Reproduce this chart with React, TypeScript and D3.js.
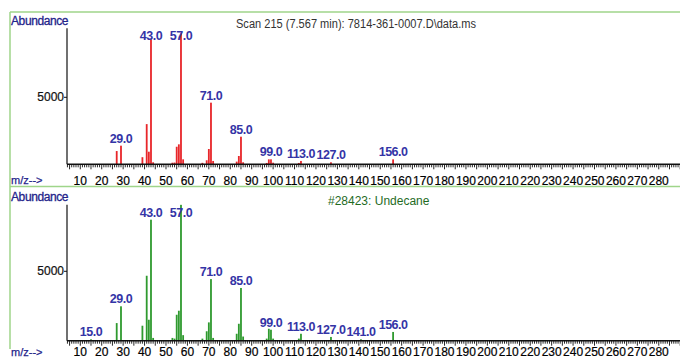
import React from "react";
import * as d3 from "d3";

// measured scan (top, red)
const scanMz = [27, 29, 39, 41, 42, 43, 44, 53, 54, 55, 56, 57, 58, 67, 69, 70, 71, 72, 83, 84, 85, 86, 97, 98, 99, 100, 112, 113, 127, 156];
const scanAbund = [990, 1390, 530, 3000, 940, 9330, 150, 120, 130, 1310, 1490, 9800, 370, 110, 300, 1140, 4600, 250, 200, 620, 2060, 150, 100, 370, 370, 120, 100, 250, 150, 370];
const scanLabels = [29, 43, 57, 71, 85, 99, 113, 127, 156];

// library spectrum #28423 Undecane (bottom, green)
const libMz = [15, 27, 29, 39, 41, 42, 43, 44, 53, 54, 55, 56, 57, 58, 67, 69, 70, 71, 72, 83, 84, 85, 86, 97, 98, 99, 100, 112, 113, 127, 141, 156];
const libAbund = [100, 1270, 2480, 1080, 4680, 1510, 8720, 200, 200, 150, 1870, 2160, 9790, 400, 150, 680, 1320, 4440, 200, 500, 1220, 3800, 300, 150, 860, 790, 150, 150, 500, 270, 100, 630];
const libLabels = [15, 29, 43, 57, 71, 85, 99, 113, 127, 141, 156];

const xTickLabels = [10, 20, 30, 40, 50, 60, 70, 80, 90, 100, 110, 120, 130, 140, 150, 160, 170, 180, 190, 200, 210, 220, 230, 240, 250, 260, 270, 280];
const yTickLabels = [5000];

const W = 680;
const H = 358;
const FONT = "'Liberation Sans', Arial, sans-serif";
const LABEL_BLUE = "#3434a6";
const AXIS_BLUE = "#23238a";
const FRAME = "#9fd58a";

const x = d3.scaleLinear().domain([3.8, 290]).range([67, 680.2]);

type PanelProps = {
  mz: number[];
  abund: number[];
  labels: number[];
  color: string;
  top: number;
  base: number;
  yMax: number;
  tickY: number;
  title: string;
  titleX: number;
  titleColor: string;
  titleLength?: number;
};

const Panel = ({ mz, abund, labels, color, top, base, yMax, tickY, title, titleX, titleColor, titleLength }: PanelProps) => {
  const y = d3.scaleLinear().domain([0, yMax]).range([base, top]);
  const minor = d3.range(4, 291, 1);
  const peaks = mz.map((m, i) => ({ m, v: abund[i] }));

  return (
    <g fontFamily={FONT}>
      <text x={11} y={top - 3.5} fontSize={12} fill={AXIS_BLUE} stroke={AXIS_BLUE} strokeWidth={0.3} letterSpacing={-0.4}>
        Abundance
      </text>
      <text
        x={titleX}
        y={top}
        fontSize={12}
        fill={titleColor}
        textLength={titleLength}
        lengthAdjust={titleLength ? "spacingAndGlyphs" : undefined}
      >
        {title}
      </text>

      {/* bars */}
      {peaks.map((d) => (
        <rect key={d.m} x={x(d.m) - 0.9} y={y(d.v)} width={1.8} height={base - y(d.v)} fill={color} />
      ))}

      {/* peak labels */}
      {labels.map((m) => {
        const v = abund[mz.indexOf(m)];
        const ly = Math.max(y(v) - 3, top + 12);
        return (
          <text key={m} x={x(m)} y={ly} textAnchor="middle" fontSize={12.5} fontWeight="bold" letterSpacing={-0.5} fill={LABEL_BLUE}>
            {m.toFixed(1)}
          </text>
        );
      })}

      {/* y axis */}
      <line x1={67} x2={67} y1={top} y2={base} stroke="#111" strokeWidth={1.2} />
      {yTickLabels.map((t) => (
        <g key={t}>
          <line x1={64} x2={67} y1={y(t)} y2={y(t)} stroke="#111" />
          <text x={64} y={y(t) + 4} textAnchor="end" fontSize={12} fill="#111" stroke="#111" strokeWidth={0.2}>
            {t}
          </text>
        </g>
      ))}

      {/* x axis ruler */}
      <line x1={67} x2={W} y1={base} y2={base} stroke="#111" strokeWidth={1.5} />
      {minor.map((m) => (
        <line key={m} x1={x(m)} x2={x(m)} y1={base} y2={base + (m % 5 === 0 ? 5 : 3)} stroke="#111" strokeWidth={0.9} />
      ))}
      {xTickLabels.map((t) => (
        <text key={t} x={x(t)} y={tickY} textAnchor="middle" fontSize={12} fill="#000" stroke="#000" strokeWidth={0.2}>
          {t}
        </text>
      ))}
      <text x={11} y={tickY - 0.5} fontSize={11} fill={AXIS_BLUE} stroke={AXIS_BLUE} strokeWidth={0.25}>
        m/z--&gt;
      </text>
    </g>
  );
};

export default function App() {
  return (
    <svg width={W} height={H} style={{ position: "absolute", left: 0, top: 0, background: "#fff" }}>
      <rect width={W} height={H} fill="#fff" />
      {/* frame */}
      <line x1={10} x2={W} y1={12} y2={12} stroke={FRAME} strokeWidth={1.5} />
      <line x1={10} x2={W} y1={186.5} y2={186.5} stroke={FRAME} strokeWidth={1.5} />
      <line x1={10} x2={10} y1={12} y2={349} stroke={FRAME} strokeWidth={1.5} />

      <Panel
        mz={scanMz}
        abund={scanAbund}
        labels={scanLabels}
        color="#e8262a"
        top={28.3}
        base={164.3}
        yMax={10150}
        tickY={184.5}
        title={"Scan 215 (7.567 min): 7814-361-0007.D\\data.ms"}
        titleX={236}
        titleColor="#333"
        titleLength={240}
      />
      <Panel
        mz={libMz}
        abund={libAbund}
        labels={libLabels}
        color="#2f9a2f"
        top={204.7}
        base={340.7}
        yMax={9800}
        tickY={356}
        title="#28423: Undecane"
        titleX={328}
        titleColor="#1f6b1f"
      />
    </svg>
  );
}
